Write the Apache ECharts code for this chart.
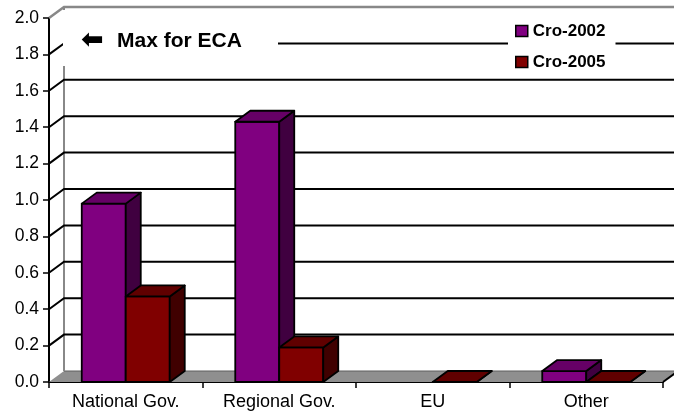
<!DOCTYPE html>
<html>
<head>
<meta charset="utf-8">
<script src="https://cdn.jsdelivr.net/npm/echarts@6/dist/echarts.min.js"></script>
<style>
html,body{margin:0;padding:0;background:#fff;}
#chart{width:674px;height:413px;}
</style>
</head>
<body>
<div id="chart"></div>
<script>
// ---- data ----
const categories = ['National Gov.', 'Regional Gov.', 'EU', 'Other'];
const seriesNames = ['Cro-2002', 'Cro-2005'];
const cro2002 = [0.98, 1.43, null, 0.06];
const cro2005 = [0.47, 0.19, 0, 0];
const yTicks = [0, 0.2, 0.4, 0.6, 0.8, 1.0, 1.2, 1.4, 1.6, 1.8, 2.0];
const titleText = 'Max for ECA';

// ---- style ----
const FONT = '"Liberation Sans", Arial, sans-serif';
const DX = 15, DY = -11;        // 3D depth offset
const BAR_FRAC = 0.2866;        // bar width as fraction of category band
const faces = [
  {front: '#800080', top: '#660066', side: '#400040'},
  {front: '#800000', top: '#600000', side: '#400000'}
];

function wallsRender(params, api) {
  const cs = params.coordSys;
  const x0 = cs.x, x1 = cs.x + cs.width;
  const y0 = api.coord([0, 0])[1];
  const yMax = api.coord([0, yTicks[yTicks.length - 1]])[1];
  const ch = [];
  ch.push({type: 'polygon', shape: {points: [[x0, y0], [x1, y0], [x1 + DX, y0 + DY], [x0 + DX, y0 + DY]]},
    style: {fill: '#8f8f8f', stroke: null}});
  ch.push({type: 'line', shape: {x1: x0 + DX, y1: y0 + DY, x2: x1 + DX, y2: y0 + DY},
    style: {stroke: '#5e5e5e', lineWidth: 1.2}});
  ch.push({type: 'line', shape: {x1: x0 + DX, y1: y0 + DY, x2: x0 + DX, y2: yMax + DY},
    style: {stroke: '#888', lineWidth: 2}});
  yTicks.forEach(function (v) {
    if (v === 0) return;
    const y = api.coord([0, v])[1];
    const isTop = v === yTicks[yTicks.length - 1];
    ch.push({type: 'polyline', shape: {points: [[x0, y], [x0 + DX, y + DY], [x1 + DX, y + DY]]},
      style: {stroke: isTop ? '#888' : '#000', lineWidth: isTop ? 2.5 : 2, fill: null}});
  });
  ch.push({type: 'line', shape: {x1: x1, y1: y0, x2: x1 + DX, y2: y0 + DY},
    style: {stroke: '#000', lineWidth: 2}});
  return {type: 'group', children: ch};
}

function makeBarRender(si) {
  return function (params, api) {
    const ci = api.value(0), v = api.value(1);
    if (v == null || isNaN(v)) return null;
    const base = api.coord([ci, 0]);
    const top = api.coord([ci, v]);
    const band = api.size([1, 0])[0];
    const w = band * BAR_FRAC;
    const xl = base[0] - w + si * w, xr = xl + w;
    const yb = base[1], yt = top[1];
    const st = {stroke: '#000', lineWidth: 1.8, lineJoin: 'round'};
    const f = faces[si];
    return {type: 'group', children: [
      {type: 'polygon', shape: {points: [[xl, yt], [xr, yt], [xr, yb], [xl, yb]]},
        style: Object.assign({fill: f.front}, st)},
      {type: 'polygon', shape: {points: [[xr, yt], [xr + DX, yt + DY], [xr + DX, yb + DY], [xr, yb]]},
        style: Object.assign({fill: f.side}, st)},
      {type: 'polygon', shape: {points: [[xl, yt], [xr, yt], [xr + DX, yt + DY], [xl + DX, yt + DY]]},
        style: Object.assign({fill: f.top}, st)}
    ]};
  };
}

const chart = echarts.init(document.getElementById('chart'), null, {renderer: 'canvas'});
chart.setOption({
  animation: false,
  backgroundColor: '#fff',
  textStyle: {fontFamily: FONT},
  grid: {left: 49, right: 11, top: 18, bottom: 31, containLabel: false},
  title: {
    text: '{a|⬅}{b|' + titleText + '}',
    left: 81, top: 29, padding: 0, z: 20,
    textStyle: {
      rich: {
        a: {fontFamily: 'DejaVu Sans', fontWeight: 'bold', fontSize: 27, color: '#000', width: 36, lineHeight: 24},
        b: {fontFamily: FONT, fontWeight: 'bold', fontSize: 21, color: '#000', lineHeight: 24}
      }
    }
  },
  graphic: [{type: 'rect', shape: {x: 63, y: 10, width: 215, height: 56}, style: {fill: '#fff'}, z: 10, silent: true}],
  legend: {
    data: seriesNames,
    orient: 'vertical',
    left: 508, top: 15,
    padding: [7, 10, 7, 7],
    backgroundColor: '#fff',
    itemWidth: 12, itemHeight: 11, itemGap: 13,
    icon: 'rect',
    itemStyle: {borderColor: '#000', borderWidth: 1.5},
    textStyle: {fontFamily: FONT, fontWeight: 'bold', fontSize: 17, lineHeight: 18, color: '#000'},
    z: 20
  },
  xAxis: {
    type: 'category',
    data: categories,
    boundaryGap: true,
    axisLine: {lineStyle: {color: '#000', width: 2}},
    axisTick: {show: true, length: 6, lineStyle: {color: '#000', width: 1.5}},
    axisLabel: {color: '#000', fontFamily: FONT, fontSize: 18, margin: 11},
    splitLine: {show: false}
  },
  yAxis: {
    type: 'value',
    min: 0, max: 2, interval: 0.2,
    axisLine: {show: true, lineStyle: {color: '#000', width: 2}},
    axisTick: {show: true, length: 6, lineStyle: {color: '#000', width: 1.5}},
    axisLabel: {color: '#000', fontFamily: FONT, fontSize: 17.5, margin: 10,
      formatter: function (v) { return v.toFixed(1); }},
    splitLine: {show: false}
  },
  series: [
    {type: 'custom', name: 'walls', silent: true, z: 1, clip: false,
      data: [[0, 0]], renderItem: wallsRender},
    {type: 'custom', name: seriesNames[0], z: 2, clip: false,
      itemStyle: {color: faces[0].front},
      data: cro2002.map(function (v, i) { return [i, v == null ? '-' : v]; }),
      renderItem: makeBarRender(0)},
    {type: 'custom', name: seriesNames[1], z: 3, clip: false,
      itemStyle: {color: faces[1].front},
      data: cro2005.map(function (v, i) { return [i, v == null ? '-' : v]; }),
      renderItem: makeBarRender(1)}
  ]
});
</script>
</body>
</html>
